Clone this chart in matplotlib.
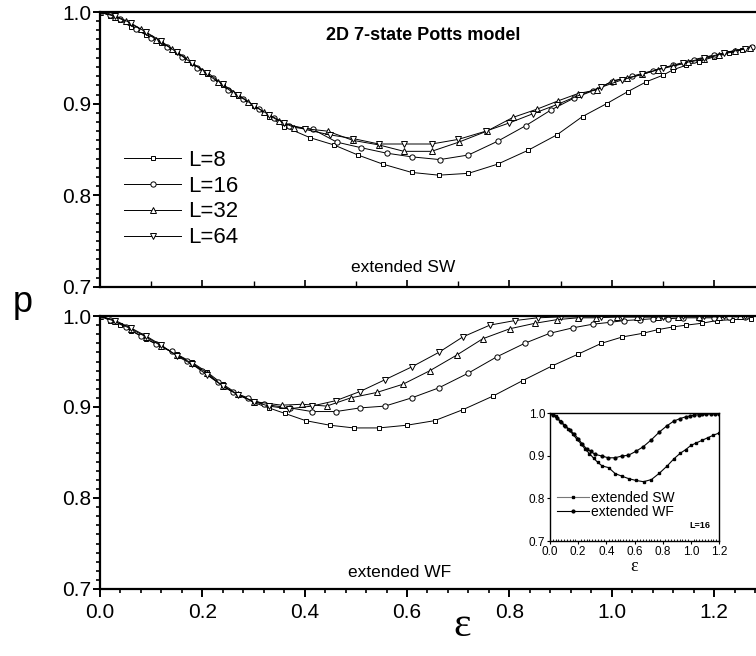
import matplotlib
matplotlib.use("Agg")
import matplotlib.pyplot as plt
from matplotlib.ticker import MultipleLocator

plt.rcParams['font.family'] = ['Liberation Sans', 'DejaVu Sans']

# ---------------- data: extended SW (top panel) ----------------
sw_eps_L8 = [0, .02, .04, .06, .09, .12, .15, .18, .21, .24, .27, .30, .33, .36, .41, .457, .504, .553,
             .609, .662, .72, .777, .836, .893, .943, .99, 1.031, 1.068, 1.10, 1.12, 1.146, 1.17, 1.20,
             1.23, 1.255, 1.275]
sw_p_L8 = [1.0, .996, .991, .984, .975, .966, .956, .944, .932, .920, .908, .897, .886, .875, .863, .855,
           .844, .834, .825, .822, .824, .834, .849, .866, .886, .900, .913, .924, .931, .937, .942, .946,
           .951, .955, .959, .962]

sw_eps_L16 = [0, .02, .04, .07, .10, .13, .16, .19, .22, .25, .28, .31, .34, .37, .416, .463, .51, .56,
              .609, .664, .72, .777, .832, .881, .926, .963, 1.0, 1.04, 1.08, 1.12, 1.16, 1.20, 1.24, 1.275]
sw_p_L16 = [1.0, .997, .992, .982, .972, .962, .951, .939, .928, .915, .905, .894, .884, .876, .872, .858,
            .852, .846, .842, .839, .844, .859, .876, .893, .906, .914, .924, .930, .936, .942, .948, .953,
            .958, .962]

sw_eps_L32 = [0, .03, .05, .08, .11, .14, .17, .20, .23, .26, .29, .32, .35, .38, .445, .494, .545, .594,
              .648, .701, .756, .807, .854, .895, .934, .971, 1.002, 1.03, 1.06, 1.09, 1.12, 1.15, 1.18,
              1.21, 1.24, 1.27]
sw_p_L32 = [1.0, .995, .990, .981, .970, .960, .949, .936, .924, .912, .902, .891, .881, .874, .870, .860,
            .855, .848, .848, .858, .870, .885, .894, .903, .911, .915, .925, .928, .932, .937, .941, .945,
            .949, .953, .957, .961]

sw_eps_L64 = [0, .03, .06, .09, .12, .15, .18, .21, .24, .27, .30, .33, .36, .40, .449, .494, .545, .594,
              .648, .70, .754, .80, .846, .893, .94, .98, 1.02, 1.06, 1.10, 1.14, 1.18, 1.22, 1.26]
sw_p_L64 = [1.0, .996, .988, .978, .968, .956, .944, .934, .921, .910, .898, .888, .879, .872, .866, .862,
            .856, .856, .856, .861, .870, .879, .889, .899, .910, .918, .926, .932, .939, .944, .950, .955,
            .960]

# ---------------- data: extended WF (bottom panel) ----------------
wf_eps_L8 = [0, .02, .04, .06, .09, .12, .15, .18, .21, .24, .27, .30, .33, .361, .402, .449, .496, .545,
             .60, .654, .709, .768, .826, .883, .934, .98, 1.021, 1.061, 1.09, 1.12, 1.146, 1.176, 1.205,
             1.236, 1.273]
wf_p_L8 = [1.0, .995, .990, .984, .975, .966, .958, .949, .938, .925, .914, .905, .899, .893, .885, .880,
           .877, .877, .880, .885, .897, .912, .929, .945, .958, .970, .977, .981, .985, .988, .990, .992,
           .995, .996, .997]

wf_eps_L16 = [0, .02, .05, .08, .11, .14, .17, .20, .23, .26, .29, .32, .371, .414, .461, .508, .557, .609,
              .662, .719, .775, .83, .879, .924, .963, .996, 1.025, 1.055, 1.08, 1.11, 1.14, 1.17, 1.20,
              1.23, 1.26]
wf_p_L16 = [1.0, .996, .988, .978, .969, .961, .951, .940, .927, .916, .910, .903, .899, .895, .895, .899,
            .901, .910, .921, .937, .955, .970, .981, .987, .991, .993, .995, .996, .997, .997, .998, .998,
            .998, .999, .999]

wf_eps_L32 = [0, .03, .06, .09, .12, .15, .18, .21, .24, .27, .30, .355, .395, .443, .49, .541, .592, .645,
              .697, .748, .801, .85, .893, .934, .97, 1.01, 1.05, 1.09, 1.13, 1.17, 1.21, 1.25]
wf_p_L32 = [1.0, .994, .986, .977, .967, .957, .948, .937, .923, .914, .906, .902, .903, .901, .910, .916,
            .925, .940, .957, .975, .986, .992, .996, .998, .998, .999, .999, .999, .999, .999, .999, 1.0]

wf_eps_L64 = [0, .03, .06, .09, .12, .15, .18, .21, .24, .27, .30, .33, .369, .414, .461, .508, .557, .609,
              .662, .709, .762, .811, .855, .90, .94, .98, 1.02, 1.06, 1.10, 1.14, 1.18, 1.22, 1.26]
wf_p_L64 = [1.0, .995, .987, .978, .968, .956, .947, .935, .923, .913, .906, .901, .898, .901, .907, .917,
            .930, .944, .960, .977, .990, .995, .998, .999, .999, .999, .999, .999, .999, 1.0, 1.0, 1.0, 1.0]

series_labels = ["L=8", "L=16", "L=32", "L=64"]
markers = ["s", "o", "^", "v"]
msizes = [3.2, 3.8, 4.8, 4.8]

sw_series = [(sw_eps_L8, sw_p_L8), (sw_eps_L16, sw_p_L16), (sw_eps_L32, sw_p_L32), (sw_eps_L64, sw_p_L64)]
wf_series = [(wf_eps_L8, wf_p_L8), (wf_eps_L16, wf_p_L16), (wf_eps_L32, wf_p_L32), (wf_eps_L64, wf_p_L64)]

W, H = 756, 656
fig = plt.figure(figsize=(W / 100, H / 100), dpi=100)

xmax = (W - 100) / 511.7


def px_axes(x0, y0, x1, y1):
    return [x0 / W, 1 - y1 / H, (x1 - x0) / W, (y1 - y0) / H]


ax_top = fig.add_axes(px_axes(100, 12, W, 287))
ax_bot = fig.add_axes(px_axes(100, 316, W, 589))

for ax, series in ((ax_top, sw_series), (ax_bot, wf_series)):
    for (x, y), lab, m, ms in zip(series, series_labels, markers, msizes):
        ax.plot(x, y, color='black', lw=0.7, marker=m, ms=ms, mfc='white', mec='black', mew=0.7,
                label=lab)
    ax.set_xlim(0, xmax)
    ax.set_ylim(0.7, 1.0)
    ax.spines['right'].set_visible(False)
    for s in ('left', 'top', 'bottom'):
        ax.spines[s].set_linewidth(1.6)
    ax.yaxis.set_major_locator(MultipleLocator(0.1))
    ax.yaxis.set_minor_locator(MultipleLocator(0.01))
    ax.tick_params(axis='y', which='major', direction='out', length=5, width=1.4, labelsize=15, pad=1)
    ax.tick_params(axis='y', which='minor', direction='out', length=3, width=1.2)
    ax.yaxis.set_major_formatter(matplotlib.ticker.FormatStrFormatter('%.1f'))

# top panel x ticks: inward, no labels
ax_top.xaxis.set_major_locator(MultipleLocator(0.2))
ax_top.xaxis.set_minor_locator(MultipleLocator(0.1))
ax_top.tick_params(axis='x', which='major', direction='in', length=5, width=1.2, labelbottom=False)
ax_top.tick_params(axis='x', which='minor', direction='in', length=4, width=1.0)

# bottom panel x ticks: outward, labels
ax_bot.xaxis.set_major_locator(MultipleLocator(0.2))
ax_bot.xaxis.set_minor_locator(MultipleLocator(0.04))
ax_bot.xaxis.set_major_formatter(matplotlib.ticker.FormatStrFormatter('%.1f'))
ax_bot.tick_params(axis='x', which='major', direction='out', length=6, width=1.4, labelsize=15, pad=4)
ax_bot.tick_params(axis='x', which='minor', direction='out', length=3, width=1.2)

# legend in top panel
ax_top.legend(loc='center left', bbox_to_anchor=(0.036, 0.32), frameon=False, fontsize=16,
              handlelength=2.6, handletextpad=0.3, labelspacing=0.22, borderaxespad=0, borderpad=0)

ax_top.text(0.492, 0.913, "2D 7-state Potts model", transform=ax_top.transAxes, ha='center',
            va='center', fontsize=13, fontweight='bold')
ax_top.text(0.462, 0.07, "extended SW", transform=ax_top.transAxes, ha='center', va='center',
            fontsize=12.5)
ax_bot.text(0.456, 0.062, "extended WF", transform=ax_bot.transAxes, ha='center', va='center',
            fontsize=12.5)

fig.text(23 / W, 1 - 302 / H, "p", ha='center', va='center', fontsize=26)
fig.text(462 / W, 1 - 626 / H, "ε", ha='center', va='center', fontsize=30,
         family=['Liberation Serif', 'DejaVu Serif'])

# ---------------- inset ----------------
ax_in = fig.add_axes(px_axes(550, 413, 719, 541))
ax_in.plot(sw_eps_L16, sw_p_L16, color='black', lw=0.8, marker='s', ms=2.0, mfc='black', mec='black',
           label='extended SW')
ax_in.plot(wf_eps_L16, wf_p_L16, color='black', lw=0.8, marker='o', ms=2.0, mfc='black', mec='black',
           label='extended WF')
ax_in.set_xlim(0, 1.2)
ax_in.set_ylim(0.7, 1.0)
ax_in.xaxis.set_major_locator(MultipleLocator(0.2))
ax_in.xaxis.set_minor_locator(MultipleLocator(0.02))
ax_in.yaxis.set_major_locator(MultipleLocator(0.1))
ax_in.xaxis.set_major_formatter(matplotlib.ticker.FormatStrFormatter('%.1f'))
ax_in.yaxis.set_major_formatter(matplotlib.ticker.FormatStrFormatter('%.1f'))
ax_in.tick_params(axis='both', which='major', direction='out', length=2.5, width=0.8, labelsize=8.5,
                  pad=1)
ax_in.tick_params(axis='x', which='minor', direction='in', length=1.5, width=0.6)
for s in ax_in.spines.values():
    s.set_linewidth(1.0)
ax_in.set_xlabel("ε", fontsize=13, family=['Liberation Serif', 'DejaVu Serif'], labelpad=0)
leg_in = ax_in.legend(loc='upper left', bbox_to_anchor=(0.04, 0.39), frameon=False, fontsize=10,
                      handlelength=2.3, handletextpad=0.2, labelspacing=0.0, borderaxespad=0,
                      borderpad=0)
leg_in.legend_handles[0].set_color('#777777')
leg_in.legend_handles[0].set_markerfacecolor('black')
leg_in.legend_handles[0].set_markeredgecolor('black')
ax_in.text(0.95, 0.12, "L=16", transform=ax_in.transAxes, ha='right', va='center', fontsize=6.5,
           fontweight='bold')

fig.savefig("out.png", dpi=100)
